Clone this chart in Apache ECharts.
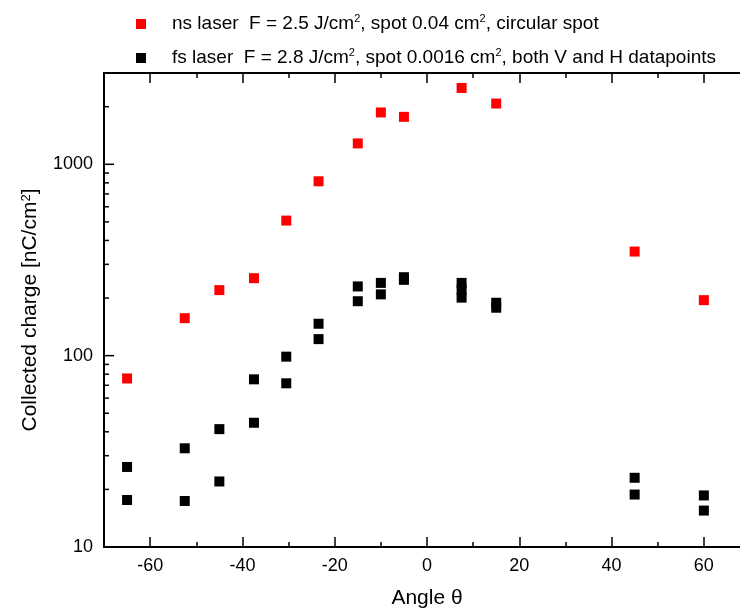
<!DOCTYPE html>
<html>
<head>
<meta charset="utf-8">
<script src="https://cdn.jsdelivr.net/npm/echarts@6/dist/echarts.min.js"></script>
<style>
  html, body { margin: 0; padding: 0; background: #fff; }
  #chart { width: 740px; height: 613px; }
</style>
</head>
<body>
<div id="chart"></div>
<script>
// ns laser, one point per angle
const nsAngles = [-65, -52.5, -45, -37.5, -30.5, -23.5, -15, -10, -5, 7.5, 15, 45, 60];
const nsCharge = [76, 157, 220, 254, 508, 815, 1286, 1866, 1770, 2506, 2078, 350, 195];

// fs laser, V and H datapoints
const fsAngles = [-65, -65, -52.5, -52.5, -45, -45, -37.5, -37.5, -30.5, -30.5, -23.5, -23.5,
  -15, -15, -10, -10, -5, -5, 7.5, 7.5, 7.5, 15, 15, 45, 45, 60, 60];
const fsCharge = [26.2, 17.6, 32.8, 17.4, 41.3, 22.0, 75.2, 44.6, 98.8, 71.7, 146.8, 122,
  230, 192.5, 240, 209, 257, 249, 240, 221, 201, 189, 178, 23.0, 18.8, 18.6, 15.5];

const xMajorTicks = [-60, -40, -20, 0, 20, 40, 60];
const xMinorTicks = [-50, -30, -10, 10, 30, 50];
const yMajorTicks = [10, 100, 1000];
const yMinorTicks = [20, 30, 40, 50, 60, 70, 80, 90, 200, 300, 400, 500, 600, 700, 800, 900, 2000];

const X_MIN = -70;
const X_MAX = 70;

const nsName = 'ns laser';
const fsName = 'fs laser';
const legendText = {
  [nsName]: 'ns laser  F = 2.5 J/cm{sup|2}, spot 0.04 cm{sup|2}, circular spot',
  [fsName]: 'fs laser  F = 2.8 J/cm{sup|2}, spot 0.0016 cm{sup|2}, both V and H datapoints',
};

const FONT = '"Liberation Sans", Arial, sans-serif';

const chart = echarts.init(document.getElementById('chart'));

function xAxisBase(position, ticks, len, showLine) {
  return {
    type: 'value',
    position,
    min: X_MIN,
    max: X_MAX,
    splitLine: { show: false },
    axisLine: { show: showLine, onZero: false, lineStyle: { color: '#000', width: 2 } },
    axisTick: { show: true, inside: true, length: len, customValues: ticks, lineStyle: { color: '#000', width: 1.5 } },
    axisLabel: { show: false },
  };
}

const xMain = xAxisBase('bottom', xMajorTicks, 10, true);
xMain.axisLabel = {
  show: true, customValues: xMajorTicks, margin: 10,
  color: '#000', fontSize: 18, fontFamily: FONT,
};
xMain.name = 'Angle \u03b8';
xMain.nameLocation = 'middle';
xMain.nameGap = 41;
xMain.nameTextStyle = { color: '#000', fontSize: 21, fontFamily: FONT };

const option = {
  animation: false,
  backgroundColor: '#fff',
  grid: { left: 104, right: -10, top: 73, bottom: 66, outerBoundsMode: 'none' },
  legend: {
    orient: 'vertical',
    left: 131,
    top: 8,
    itemWidth: 10,
    itemHeight: 10,
    itemGap: 12,
    icon: 'rect',
    data: [nsName, fsName],
    formatter: (name) => legendText[name],
    textStyle: {
      color: '#000', fontSize: 19, fontFamily: FONT, lineHeight: 22,
      padding: [0, 0, 0, 21],
      rich: { sup: { fontSize: 11, fontFamily: FONT, color: '#000', verticalAlign: 'top', lineHeight: 22 } },
    },
  },
  xAxis: [
    xMain,
    xAxisBase('top', xMajorTicks, 10, true),
    xAxisBase('bottom', xMinorTicks, 5, false),
    xAxisBase('top', xMinorTicks, 5, false),
  ],
  yAxis: {
    type: 'log',
    position: 'left',
    min: 10,
    max: 3000,
    splitLine: { show: false },
    axisLine: { show: true, onZero: false, lineStyle: { color: '#000', width: 2 } },
    axisTick: { show: false },
    axisLabel: {
      show: true, customValues: yMajorTicks, margin: 11,
      color: '#000', fontSize: 18, fontFamily: FONT,
      formatter: (v) => String(v),
    },
    name: 'Collected charge [nC/cm{sup|2}]',
    nameLocation: 'middle',
    nameGap: 63,
    nameTextStyle: {
      color: '#000', fontSize: 21, fontFamily: FONT,
      rich: { sup: { fontSize: 13, fontFamily: FONT, color: '#000', verticalAlign: 'top' } },
    },
  },
  series: [
    {
      name: nsName,
      type: 'scatter',
      symbol: 'rect',
      symbolSize: 10,
      itemStyle: { color: '#ff0000', opacity: 1 },
      data: nsAngles.map((a, i) => [a, nsCharge[i]]),
    },
    {
      name: fsName,
      type: 'scatter',
      symbol: 'rect',
      symbolSize: 10,
      itemStyle: { color: '#000000', opacity: 1 },
      data: fsAngles.map((a, i) => [a, fsCharge[i]]),
    },
  ],
};

chart.setOption(option);

// y ticks on the left edge: positions come from the log axis
function yTickLines(values, len) {
  return values.map((v) => {
    const p = chart.convertToPixel({ xAxisIndex: 0, yAxisIndex: 0 }, [X_MIN, v]);
    return {
      type: 'line',
      z: 100,
      silent: true,
      shape: { x1: p[0], y1: p[1], x2: p[0] + len, y2: p[1] },
      style: { stroke: '#000', lineWidth: 1.5 },
    };
  });
}

chart.setOption({
  graphic: [
    ...yTickLines(yMajorTicks, 10),
    ...yTickLines(yMinorTicks, 5),
  ],
});
</script>
</body>
</html>
